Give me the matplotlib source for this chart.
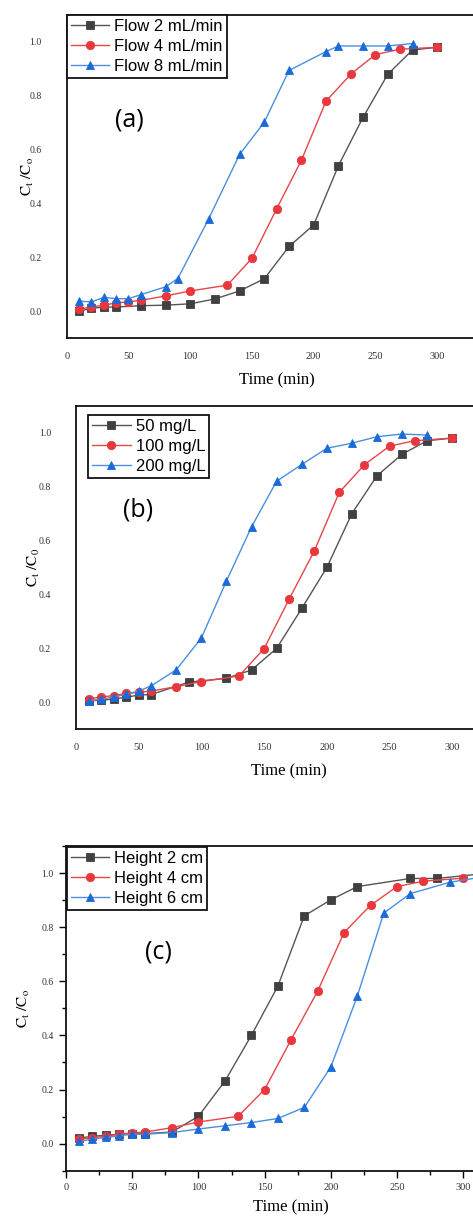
import matplotlib
matplotlib.use("Agg")
import matplotlib.pyplot as plt
from matplotlib.ticker import MultipleLocator
from matplotlib.transforms import blended_transform_factory

plt.rcParams['mathtext.fontset'] = 'stix'

# ---------------- data ----------------
# (a) flow rate
a_t_flow2 = [10, 20, 30, 40, 60, 80, 100, 120, 140, 160, 180, 200, 220, 240, 260, 280, 300]
a_c_flow2 = [0.0, 0.01, 0.015, 0.015, 0.02, 0.022, 0.027, 0.045, 0.075, 0.12, 0.24, 0.32, 0.54, 0.72, 0.88, 0.97, 0.98]
a_t_flow4 = [10, 20, 30, 40, 50, 60, 80, 100, 130, 150, 170, 190, 210, 230, 250, 270, 300]
a_c_flow4 = [0.006, 0.016, 0.021, 0.031, 0.034, 0.04, 0.056, 0.075, 0.096, 0.196, 0.38, 0.56, 0.78, 0.88, 0.953, 0.973, 0.98]
a_t_flow8 = [10, 20, 30, 40, 50, 60, 80, 90, 115, 140, 160, 180, 210, 220, 240, 260, 280]
a_c_flow8 = [0.037, 0.034, 0.051, 0.046, 0.046, 0.061, 0.09, 0.121, 0.343, 0.582, 0.702, 0.894, 0.964, 0.985, 0.985, 0.985, 0.994]
a_labels = ["Flow 2 mL/min", "Flow 4 mL/min", "Flow 8 mL/min"]

# (b) initial concentration
b_t_50 = [10, 20, 30, 40, 50, 60, 90, 120, 140, 160, 180, 200, 220, 240, 260, 280, 300]
b_c_50 = [0.005, 0.008, 0.012, 0.019, 0.027, 0.029, 0.075, 0.089, 0.12, 0.2, 0.348, 0.5, 0.70, 0.84, 0.92, 0.97, 0.98]
b_t_100 = [10, 20, 30, 40, 50, 60, 80, 100, 130, 150, 170, 190, 210, 230, 250, 270, 300]
b_c_100 = [0.012, 0.02, 0.025, 0.033, 0.037, 0.042, 0.058, 0.077, 0.098, 0.199, 0.383, 0.561, 0.779, 0.881, 0.95, 0.97, 0.98]
b_t_200 = [10, 20, 30, 40, 50, 60, 80, 100, 120, 140, 160, 180, 200, 220, 240, 260, 280]
b_c_200 = [0.006, 0.011, 0.02, 0.03, 0.042, 0.061, 0.121, 0.239, 0.45, 0.651, 0.82, 0.882, 0.942, 0.961, 0.985, 0.995, 0.991]
b_labels = ["50 mg/L", "100 mg/L", "200 mg/L"]

# (c) bed height
c_t_h2 = [10, 20, 30, 40, 50, 60, 80, 100, 120, 140, 160, 180, 200, 220, 260, 280, 320]
c_c_h2 = [0.021, 0.027, 0.031, 0.035, 0.037, 0.037, 0.043, 0.101, 0.231, 0.40, 0.582, 0.842, 0.901, 0.95, 0.98, 0.98, 1.0]
c_t_h4 = [10, 20, 30, 40, 50, 60, 80, 100, 130, 150, 170, 190, 210, 230, 250, 270, 300]
c_c_h4 = [0.016, 0.022, 0.027, 0.035, 0.04, 0.043, 0.059, 0.08, 0.101, 0.2, 0.384, 0.563, 0.78, 0.881, 0.95, 0.97, 0.981]
c_t_h6 = [10, 20, 30, 40, 50, 60, 80, 100, 120, 140, 160, 180, 200, 220, 240, 260, 290, 320]
c_c_h6 = [0.008, 0.017, 0.023, 0.029, 0.035, 0.035, 0.041, 0.054, 0.066, 0.078, 0.093, 0.134, 0.283, 0.545, 0.852, 0.924, 0.966, 0.99]
c_labels = ["Height 2 cm", "Height 4 cm", "Height 6 cm"]

# ---------------- style ----------------
W, H = 473, 1218
fig = plt.figure(figsize=(W / 100, H / 100), dpi=100)

line_cols = ["#555555", "#e8454a", "#4a8fe0"]
mk_cols = ["#404040", "#e8383d", "#1a6ad8"]
markers = ["s", "o", "^"]
msizes = [5.4, 6.0, 6.4]


def px_axes(left, top, right, bottom):
    return fig.add_axes([left / W, 1 - bottom / H, (right - left) / W, (bottom - top) / H])


def draw_panel(ax, series, labels, tag, tag_xy, ylab, ylab_x, leg_anchor, ticks_on):
    for i, (t, c) in enumerate(series):
        ax.plot(t, c, color=line_cols[i], lw=1.0, marker=markers[i], ms=msizes[i],
                mfc=mk_cols[i], mec=mk_cols[i], mew=0.6, label=labels[i])
    ax.set_xlim(0, 340)
    ax.set_ylim(-0.1, 1.1)
    ax.set_xticks([0, 50, 100, 150, 200, 250, 300])
    ax.set_yticks([0.0, 0.2, 0.4, 0.6, 0.8, 1.0])
    ax.set_yticklabels(["0.0", "0.2", "0.4", "0.6", "0.8", "1.0"])
    for s in ax.spines.values():
        s.set_linewidth(1.3)
        s.set_color("#111111")
    if ticks_on:
        ax.xaxis.set_minor_locator(MultipleLocator(25))
        ax.yaxis.set_minor_locator(MultipleLocator(0.1))
        ax.tick_params(axis='both', which='major', direction='out', length=5, width=1.0, pad=4)
        ax.tick_params(axis='both', which='minor', direction='out', length=3, width=1.0)
        ax.tick_params(top=False, right=False, which='both')
    else:
        ax.tick_params(axis='x', length=0, pad=10)
        ax.tick_params(axis='y', length=0, pad=18)
    for lab in ax.get_xticklabels():
        lab.set_fontfamily("Liberation Serif")
        lab.set_fontsize(7.5)
        lab.set_color("#333333")
    for lab in ax.get_yticklabels():
        lab.set_fontfamily("Liberation Serif")
        lab.set_fontsize(7)
        lab.set_color("#333333")
    ax.set_xlabel("Time (min)", fontfamily="Liberation Serif", fontsize=12, labelpad=5 if ticks_on else 8)
    ax.set_ylabel(ylab, fontsize=11)
    ax.yaxis.set_label_coords(ylab_x, 0.5,
                              transform=blended_transform_factory(fig.transFigure, ax.transAxes))
    ax.yaxis.label.set_va('center')
    ax.text(tag_xy[0], tag_xy[1], tag, transform=fig.transFigure, ha='center', va='center',
            fontsize=18, fontfamily="Open Sans")
    leg = ax.legend(loc='upper left', bbox_to_anchor=leg_anchor, bbox_transform=fig.transFigure,
                    prop={'family': 'Liberation Sans', 'size': 12}, frameon=True, fancybox=False,
                    edgecolor="#111111", borderpad=0.25, labelspacing=0.3, handlelength=2.3,
                    handletextpad=0.3, borderaxespad=0)
    leg.get_frame().set_linewidth(1.3)
    leg.get_frame().set_alpha(1)
    for i, h in enumerate(leg.legend_handles):
        h.set_color(line_cols[i])
        h.set_markerfacecolor(mk_cols[i])
        h.set_markeredgecolor(mk_cols[i])


# panel (a)
ax1 = px_axes(66.7, 15, 66.7 + 340 * 1.235, 338)
draw_panel(ax1, [(a_t_flow2, a_c_flow2), (a_t_flow4, a_c_flow4), (a_t_flow8, a_c_flow8)],
           a_labels, "(a)", (129 / W, 1 - 120 / H), r"$\mathrm{C_t\ /C_o}$", 28 / W,
           (66.7 / W, 1 - 15 / H), False)

# panel (b)
ax2 = px_axes(76, 405.7, 76 + 340 * 1.254, 729.3)
draw_panel(ax2, [(b_t_50, b_c_50), (b_t_100, b_c_100), (b_t_200, b_c_200)],
           b_labels, "(b)", (138 / W, 1 - 510 / H), r"$\mathrm{C_t\ /C_0}$", 34 / W,
           (88 / W, 1 - 415 / H), False)

# panel (c)
ax3 = px_axes(66, 846, 66 + 340 * 1.324, 1170.7)
draw_panel(ax3, [(c_t_h2, c_c_h2), (c_t_h4, c_c_h4), (c_t_h6, c_c_h6)],
           c_labels, "(c)", (158 / W, 1 - 951.7 / H), r"$\mathrm{C_t\ /C_o}$", 24 / W,
           (66.7 / W, 1 - 847 / H), True)

fig.savefig("out.png", dpi=100)
